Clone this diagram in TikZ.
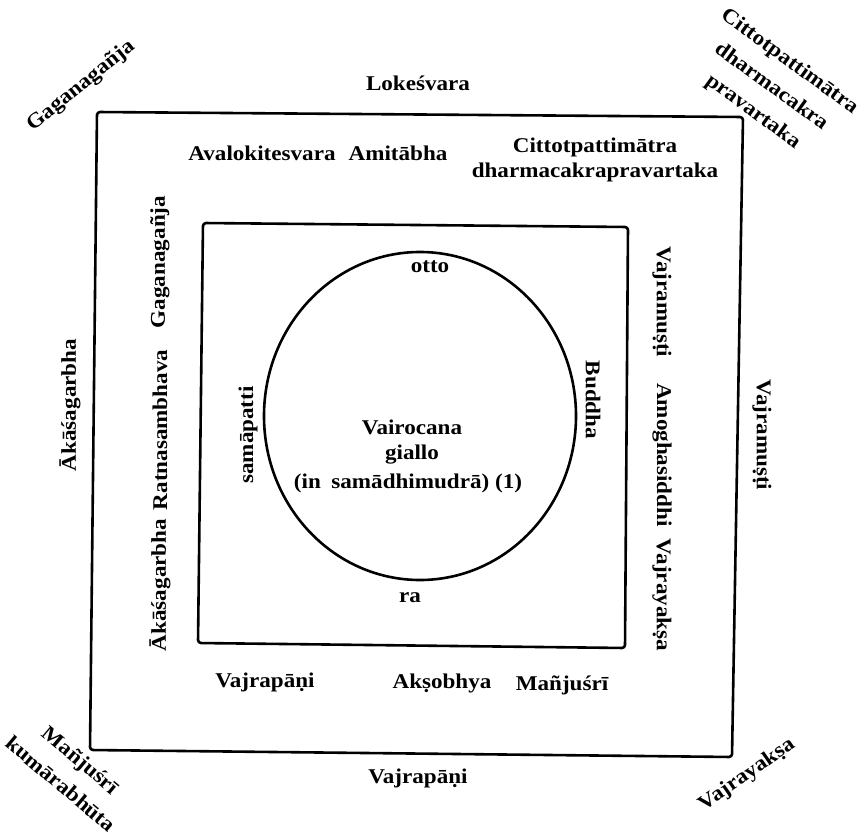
\documentclass[tikz,border=0pt]{standalone}
\usepackage{fontspec}
\setmainfont{Liberation Serif}[FakeStretch=1.1]
\begin{document}
\begin{tikzpicture}[x=1pt,y=-1pt,
  lab/.style={font=\bfseries\fontsize{21}{25}\selectfont, inner sep=0pt},
  blk/.style={lab, align=center, font=\bfseries\fontsize{21}{31}\selectfont},
  frame/.style={line width=2.6pt, line join=round, rounded corners=3pt}]
\useasboundingbox (0,0) rectangle (868,840);
% frames
\coordinate (o1) at (97,112); \coordinate (o2) at (743,117);
\coordinate (o3) at (732,757); \coordinate (o4) at (90,750);
\draw[frame] (o1) -- (o2) -- (o3) -- (o4) -- cycle;
\coordinate (i1) at (203,223); \coordinate (i2) at (628,227);
\coordinate (i3) at (625,648); \coordinate (i4) at (198,643);
\draw[frame] (i1) -- (i2) -- (i3) -- (i4) -- cycle;
\coordinate (cc) at (420,416);
\draw[line width=2.6pt] (cc) ellipse[x radius=156, y radius=164];
% outer labels
\node[lab] (lok) at (418,83) {Lokeśvara};
\node[lab, rotate=39] (gagTL) at (81,86) {Gaganagañja};
\node[blk, rotate=-36] (citTR) at (771,87) {Cittotpattimātra\\dharmacakra\\pravartaka};
\node[lab, rotate=90] (akOut) at (70,405) {Ākāśagarbha};
\node[lab, rotate=-90] (vmOut) at (762,435) {Vajramuṣṭi};
\node[lab] (vpOut) at (418,778) {Vajrapāṇi};
\node[blk, rotate=-40] (manjBL) at (71,772) {Mañjuśrī\\kumārabhūta};
\node[lab, rotate=35] (vyBR) at (747,775) {Vajrayakṣa};
% between frames
\node[lab] (aval) at (262,153) {Avalokitesvara};
\node[lab] (amit) at (398,153) {Amitābha};
\node[lab, align=center] (citt) at (595,160) {Cittotpattimātra\\dharmacakrapravartaka};
\node[lab, rotate=90] (gagIn) at (160,262) {Gaganagañja};
\node[lab, rotate=90] (ratna) at (160,430) {Ratnasambhava};
\node[lab, rotate=90] (akIn) at (160,585) {Ākāśagarbha};
\node[lab, rotate=-90] (vmIn) at (662,302) {Vajramuṣṭi};
\node[lab, rotate=-90] (amogha) at (662,455) {Amoghasiddhi};
\node[lab, rotate=-90] (vyIn) at (662,595) {Vajrayakṣa};
\node[lab] (vpIn) at (265,682) {Vajrapāṇi};
\node[lab] (aks) at (442,683) {Akṣobhya};
\node[lab] (manj) at (562,685) {Mañjuśrī};
% inner square
\node[lab] (otto) at (430,267) {otto};
\node[lab, rotate=90] (samap) at (248,435) {samāpatti};
\node[lab, rotate=-90] (buddha) at (593,400) {Buddha};
\node[lab] (ra) at (410,598) {ra};
\node[lab] (vairo) at (412,427) {Vairocana};
\node[lab] (giallo) at (412,455) {giallo};
\node[lab] (insam) at (408,483) {(in\enspace samādhimudrā) (1)};
\end{tikzpicture}
\end{document}
